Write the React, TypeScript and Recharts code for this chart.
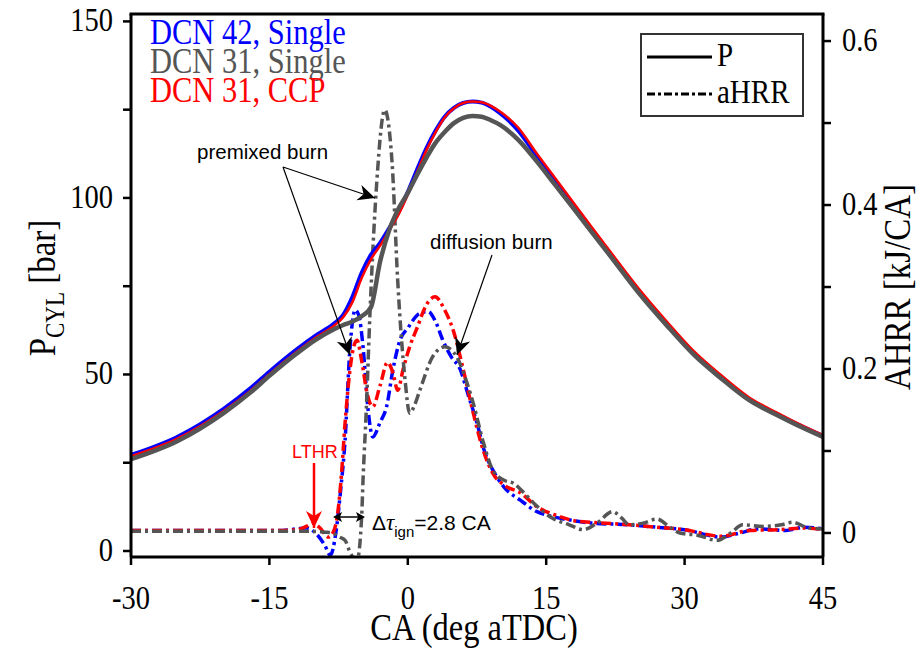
import React from 'react';
import { LineChart, Line, XAxis, YAxis } from 'recharts';

// crank angle grid for the cylinder pressure traces
const P_CA = [-30, -25, -20, -17, -15, -12, -10, -8, -7, -6, -5, -4, -3, -2, -1, 0, 1, 2, 3, 4, 5, 6, 7, 8, 9, 10, 12, 14, 16, 18, 20, 22, 25, 28, 31, 34, 37, 40, 42, 45];
const P_DCN42_SINGLE = [27.2, 32.3, 40.2, 46.2, 50.8, 57.2, 61, 64.4, 66.9, 72, 78.8, 83.9, 87.3, 91.5, 96, 101.7, 108, 114, 119, 123, 125.5, 126.9, 127.3, 127, 125.8, 124, 119, 111.8, 104.9, 97.9, 90.9, 84, 73.8, 64.6, 56, 49.2, 43, 38.8, 36.2, 32.6];
const P_DCN31_CCP = [26.8, 31.8, 39.6, 45.5, 50.1, 56.5, 60.4, 63.8, 66.2, 70.5, 77.3, 82.6, 86.5, 90.8, 95.3, 100.9, 107.2, 113.4, 118.6, 122.8, 125.4, 126.9, 127.3, 127.1, 126.1, 124.5, 119.8, 112.5, 105.5, 98.5, 91.5, 84.6, 74.4, 65.2, 56.6, 49.7, 43.5, 39.2, 36.5, 32.8];
const P_DCN31_SINGLE = [26.0, 31.1, 39.0, 45.0, 49.6, 56.0, 59.8, 62.8, 64, 65, 66.5, 69, 82, 91, 97, 101.4, 106.5, 111.3, 115.6, 118.7, 121.2, 122.7, 123.2, 123, 122, 120.7, 116.4, 110.3, 103.6, 96.9, 90.1, 83.4, 73.2, 64.1, 55.6, 48.8, 42.7, 38.5, 35.9, 32.3];

// apparent heat release rate, kJ/CA
const HRR_CA_DCN42 = [-30, -20, -14, -12, -11, -10, -9, -8.4, -7.8, -7.3, -6.8, -6.3, -5.7, -5.3, -4.85, -4.3, -3.8, -3, -2.3, -1.6, -0.85, 0, 1.3, 2.2, 3, 3.8, 4.7, 5.7, 6.5, 7.5, 8.3, 9.2, 10.5, 12.2, 14, 15.7, 18, 20, 24, 27, 30, 34, 36, 38, 41, 43, 45];
const HRR_DCN42 = [0.003, 0.003, 0.003, 0.005, 0.006, 0.0, -0.015, -0.027, 0.0, 0.05, 0.113, 0.22, 0.272, 0.265, 0.227, 0.15, 0.117, 0.135, 0.154, 0.2, 0.235, 0.25, 0.268, 0.27, 0.258, 0.235, 0.215, 0.199, 0.17, 0.134, 0.1, 0.077, 0.055, 0.04, 0.026, 0.02, 0.015, 0.012, 0.01, 0.007, 0.004, -0.005, 0.0, 0.005, 0.003, 0.007, 0.005];

const HRR_CA_CCP = [-30, -14, -12, -11, -10.3, -9.5, -8.6, -8, -7.6, -7.2, -6.8, -6.0, -5.5, -5.0, -4.4, -3.8, -3, -2.2, -1.6, -1.1, -0.5, 0.2, 1, 2, 2.95, 4, 4.9, 6, 7.1, 8.2, 9.2, 10.5, 12.2, 14, 16.5, 18, 20, 24, 27, 30, 34, 37, 40, 43, 45];
const HRR_CCP = [0.003, 0.003, 0.004, 0.008, 0.012, 0.006, -0.005, 0.003, 0.024, 0.07, 0.134, 0.22, 0.235, 0.21, 0.17, 0.154, 0.18, 0.208, 0.195, 0.174, 0.2, 0.227, 0.25, 0.278, 0.288, 0.272, 0.248, 0.2, 0.146, 0.1, 0.073, 0.058, 0.049, 0.032, 0.02, 0.015, 0.013, 0.01, 0.007, 0.004, -0.004, 0.003, 0.004, 0.006, 0.004];

const HRR_CA_DCN31 = [-30, -14, -11, -9, -8.2, -7.4, -6.8, -6.2, -5.5, -5.0, -4.85, -4.5, -4.1, -3.35, -2.5, -1.7, -1.1, -0.3, 0.2, 0.7, 1.3, 2.7, 4.0, 5.3, 6.2, 7.1, 8.2, 9.2, 10.5, 11.4, 12.5, 13.6, 15.7, 17.5, 19, 20.5, 22.2, 23.2, 24, 25.5, 27, 28.3, 29.5, 31.5, 33.5, 35, 36.3, 38.5, 40.5, 41.7, 43.5, 45];
const HRR_DCN31 = [0.002, 0.002, 0.002, 0.001, 0.0, -0.005, -0.009, -0.025, -0.033, 0.02, 0.065, 0.15, 0.268, 0.43, 0.516, 0.451, 0.309, 0.187, 0.146, 0.155, 0.174, 0.215, 0.227, 0.215, 0.19, 0.158, 0.11, 0.077, 0.064, 0.061, 0.05, 0.037, 0.018, 0.01, 0.004, 0.012, 0.026, 0.018, 0.01, 0.012, 0.017, 0.008, 0.0, -0.003, -0.009, 0.0, 0.01, 0.008, 0.01, 0.013, 0.006, 0.005];

const X_TICKS = [-30, -15, 0, 15, 30, 45];
const P_TICKS = [0, 25, 50, 75, 100, 125, 150];
const HRR_TICKS = [0, 0.1, 0.2, 0.3, 0.4, 0.5, 0.6];

const BLUE = '#0000ff';
const RED = '#ff0000';
const GRAY = '#555555';
const DASHDOT = '10 4 3 4';

const zip = (xs: number[], ys: number[]) => xs.map((x, i) => ({ x, y: ys[i] }));

const serif = '"Liberation Serif", "Times New Roman", serif';
const sans = '"Liberation Sans", Arial, sans-serif';
// the figure's Times text is a bit taller than it is wide
const STRETCH = 'scale(1,1.15)';
const TICK_FS = 28.5;

// plot box, used only to place the annotation overlay
const PL = 131;
const PR = 823;
const PT = 14;

function arrowHead(x1: number, y1: number, x2: number, y2: number, len: number, half: number, notch: number) {
  const dx = x2 - x1;
  const dy = y2 - y1;
  const d = Math.hypot(dx, dy);
  const ux = dx / d;
  const uy = dy / d;
  const bx = x2 - ux * len;
  const by = y2 - uy * len;
  const nx = -uy;
  const ny = ux;
  const pts = [
    [x2, y2],
    [bx + nx * half, by + ny * half],
    [x2 - ux * (len - notch), y2 - uy * (len - notch)],
    [bx - nx * half, by - ny * half],
  ];
  return pts.map((p) => p.join(',')).join(' ');
}

function Arrow({ x1, y1, x2, y2, color = '#000', width = 1.2 }: any) {
  return (
    <g>
      <line x1={x1} y1={y1} x2={x2} y2={y2} stroke={color} strokeWidth={width} />
      <polygon points={arrowHead(x1, y1, x2, y2, 17, 8, 5)} fill={color} />
    </g>
  );
}

function StretchText({ x, y, anchor = 'start', size, rotate = 0, fill = '#000', family = serif, children }: any) {
  return (
    <text
      transform={`translate(${x},${y}) rotate(${rotate}) ${STRETCH}`}
      textAnchor={anchor}
      fontFamily={family}
      fontSize={size}
      fill={fill}
    >
      {children}
    </text>
  );
}

const XTick = (props: any) => {
  const { x, y, payload } = props;
  return (
    <g transform={`translate(${x},${y})`}>
      <text transform={STRETCH} textAnchor="middle" dy="0.71em" fontFamily={serif} fontSize={TICK_FS} fill="#000">
        {String(payload.value)}
      </text>
    </g>
  );
};

const PTick = (props: any) => {
  const { x, y, payload } = props;
  const v = payload.value;
  if (v % 50 !== 0) return <g />;
  return (
    <g transform={`translate(${x},${y})`}>
      <text transform={STRETCH} textAnchor="end" dy="0.3em" fontFamily={serif} fontSize={TICK_FS} fill="#000">
        {String(v)}
      </text>
    </g>
  );
};

const HrrTick = (props: any) => {
  const { x, y, payload } = props;
  const r = Math.round(payload.value * 10);
  if (r % 2 !== 0) return <g />;
  return (
    <g transform={`translate(${x},${y})`}>
      <text transform={STRETCH} textAnchor="start" dy="0.3em" fontFamily={serif} fontSize={TICK_FS} fill="#000">
        {r === 0 ? '0' : (r / 10).toFixed(1)}
      </text>
    </g>
  );
};

export default function App() {
  return (
    <div style={{ position: 'absolute', left: 0, top: 0, width: 924, height: 653, background: '#fff' }}>
      <LineChart width={924} height={653} margin={{ top: PT, right: 0, bottom: 0, left: 0 }}>
        <XAxis
          dataKey="x"
          type="number"
          domain={[-30, 45]}
          ticks={X_TICKS}
          allowDataOverflow
          height={96}
          tickSize={8}
          tickMargin={21}
          tick={<XTick />}
          axisLine={{ stroke: '#000', strokeWidth: 3 }}
          tickLine={{ stroke: '#000', strokeWidth: 2.5 }}
        />
        <YAxis
          yAxisId="p"
          orientation="left"
          type="number"
          domain={[-1.7, 152.1]}
          ticks={P_TICKS}
          allowDataOverflow
          width={131}
          tickSize={8}
          tickMargin={10}
          tick={<PTick />}
          axisLine={{ stroke: '#000', strokeWidth: 3 }}
          tickLine={{ stroke: '#000', strokeWidth: 2.5 }}
        />
        <YAxis
          yAxisId="hrr"
          orientation="right"
          type="number"
          domain={[-0.0293, 0.633]}
          ticks={HRR_TICKS}
          allowDataOverflow
          width={101}
          tickSize={8}
          tickMargin={11}
          tick={<HrrTick />}
          axisLine={{ stroke: '#000', strokeWidth: 3 }}
          tickLine={{ stroke: '#000', strokeWidth: 2.5 }}
        />

        <Line yAxisId="hrr" data={zip(HRR_CA_DCN42, HRR_DCN42)} dataKey="y" type="monotone" stroke={BLUE} strokeWidth={3.5} strokeDasharray={DASHDOT} dot={false} isAnimationActive={false} />
        <Line yAxisId="hrr" data={zip(HRR_CA_CCP, HRR_CCP)} dataKey="y" type="monotone" stroke={RED} strokeWidth={3.5} strokeDasharray={DASHDOT} dot={false} isAnimationActive={false} />
        <Line yAxisId="hrr" data={zip(HRR_CA_DCN31, HRR_DCN31)} dataKey="y" type="monotone" stroke={GRAY} strokeWidth={3.5} strokeDasharray={DASHDOT} dot={false} isAnimationActive={false} />

        <Line yAxisId="p" data={zip(P_CA, P_DCN42_SINGLE)} dataKey="y" type="monotone" stroke={BLUE} strokeWidth={4} dot={false} isAnimationActive={false} />
        <Line yAxisId="p" data={zip(P_CA, P_DCN31_CCP)} dataKey="y" type="monotone" stroke={RED} strokeWidth={2.5} dot={false} isAnimationActive={false} />
        <Line yAxisId="p" data={zip(P_CA, P_DCN31_SINGLE)} dataKey="y" type="monotone" stroke={GRAY} strokeWidth={4.5} dot={false} isAnimationActive={false} />
      </LineChart>

      <svg width={924} height={653} style={{ position: 'absolute', left: 0, top: 0, pointerEvents: 'none' }}>
        <line x1={PL - 1.5} y1={PT} x2={PR + 1.5} y2={PT} stroke="#000" strokeWidth={3} />

        <StretchText x={150} y={44} size={30.5} fill={BLUE}>DCN 42, Single</StretchText>
        <StretchText x={150} y={73} size={30.5} fill={GRAY}>DCN 31, Single</StretchText>
        <StretchText x={150} y={102} size={30.5} fill={RED}>DCN 31, CCP</StretchText>

        <rect x={641} y={34} width={162} height={82} fill="#fff" stroke="#333" strokeWidth={2} />
        <line x1={647} y1={57} x2={712} y2={57} stroke="#000" strokeWidth={3} />
        <line x1={647} y1={94} x2={712} y2={94} stroke="#000" strokeWidth={3} strokeDasharray="8 3 3 3" />
        <StretchText x={717} y={66} size={29}>P</StretchText>
        <StretchText x={717} y={103} size={29}>aHRR</StretchText>

        <StretchText x={474} y={640} size={32.5} anchor="middle">CA (deg aTDC)</StretchText>
        <StretchText x={55} y={288} size={33} anchor="middle" rotate={-90}>
          P<tspan fontSize={23} dy={8}>CYL</tspan>
          <tspan dy={-8}> [bar]</tspan>
        </StretchText>
        <StretchText x={910} y={287} size={33} anchor="middle" rotate={-90}>AHRR [kJ/CA]</StretchText>

        <g fontFamily={sans} fontSize={20.5} fill="#000">
          <text x={197} y={159}>premixed burn</text>
          <text x={430} y={249}>diffusion burn</text>
        </g>
        <Arrow x1={283} y1={167} x2={350} y2={355} />
        <Arrow x1={283} y1={167} x2={375} y2={198} />
        <Arrow x1={492} y1={255} x2={457} y2={355} />

        <text x={292} y={458} fontFamily={sans} fontSize={18} fill={RED}>LTHR</text>
        <Arrow x1={314} y1={463} x2={314} y2={528} color={RED} width={2.5} />

        <line x1={336} y1={517} x2={362} y2={517} stroke="#000" strokeWidth={1.5} />
        <polygon points={arrowHead(362, 517, 333, 517, 9, 5, 2)} fill="#000" />
        <polygon points={arrowHead(333, 517, 365, 517, 9, 5, 2)} fill="#000" />
        <text x={372} y={530} fontFamily={sans} fontSize={21} fill="#000">
          Δ<tspan fontFamily={serif} fontStyle="italic" fontSize={23}>τ</tspan>
          <tspan fontSize={15} dy={7}>ign</tspan>
          <tspan dy={-7}>=2.8 CA</tspan>
        </text>
      </svg>
    </div>
  );
}
